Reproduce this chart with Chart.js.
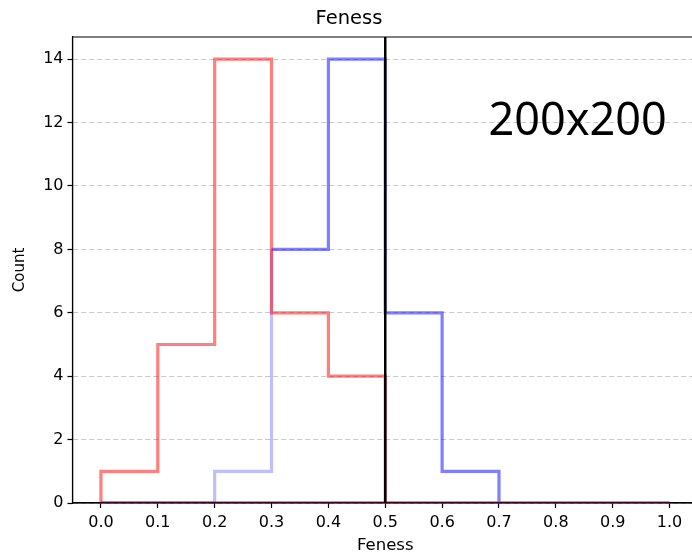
<!DOCTYPE html>
<html>
<head>
<meta charset="utf-8">
<script src="https://cdn.jsdelivr.net/npm/chart.js@4.4.1/dist/chart.umd.min.js"></script>
<style>
  html, body { margin: 0; padding: 0; background: #fff; overflow: hidden; }
  #wrap { width: 692px; height: 556px; overflow: hidden; }
  canvas { display: block; }
</style>
</head>
<body>
<div id="wrap"><canvas id="c" width="699" height="556"></canvas></div>
<script>
// Histogram bin edges and counts per group
const binEdges = [0.0, 0.1, 0.2, 0.3, 0.4, 0.5, 0.6, 0.7, 0.8, 0.9, 1.0];
const redCounts = [1, 5, 14, 6, 4, 0, 0, 0, 0, 0];
const blueCounts = [0, 0, 1, 8, 14, 6, 1, 0, 0, 0];
const xTicks = [0.0, 0.1, 0.2, 0.3, 0.4, 0.5, 0.6, 0.7, 0.8, 0.9, 1.0];
const yTicks = [0, 2, 4, 6, 8, 10, 12, 14];
const thresholdX = 0.5;
const blueFadeUntil = 0.3;
const sizeLabel = '200x200';

// Closed outline of a step histogram: up at each left edge, across, down, back along the base
function stepPoints(edges, counts) {
  const pts = [{x: edges[0], y: 0}];
  for (let i = 0; i < counts.length; i++) {
    pts.push({x: edges[i], y: counts[i]});
    pts.push({x: edges[i + 1], y: counts[i]});
  }
  pts.push({x: edges[edges.length - 1], y: 0});
  pts.push({x: edges[0], y: 0});
  return pts;
}

const RED = 'rgba(255,0,0,0.5)';
const BLUE = 'rgba(0,0,255,0.5)';
const BLUE_FAINT = 'rgba(0,0,255,0.25)';
const AXIS_W = 1.2;

const overlay = {
  id: 'overlay',
  afterDatasetsDraw(chart) {
    const {ctx, chartArea, scales} = chart;
    const {left, right, top, bottom} = chartArea;
    ctx.save();
    // frame: top, plus left and bottom redrawn above the outlines
    ctx.strokeStyle = '#000';
    ctx.lineWidth = AXIS_W;
    ctx.beginPath();
    ctx.moveTo(left, top);
    ctx.lineTo(right, top);
    ctx.moveTo(left, top);
    ctx.lineTo(left, bottom);
    ctx.lineTo(right, bottom);
    ctx.stroke();
    // threshold marker
    const xp = scales.x.getPixelForValue(thresholdX);
    ctx.lineWidth = 2.5;
    ctx.beginPath();
    ctx.moveTo(xp, top);
    ctx.lineTo(xp, bottom);
    ctx.stroke();
    // size label
    ctx.fillStyle = '#000';
    ctx.font = '45px "Noto Sans", sans-serif';
    ctx.textAlign = 'right';
    ctx.textBaseline = 'middle';
    ctx.fillText(sizeLabel, scales.x.getPixelForValue(0.995), scales.y.getPixelForValue(12.0));
    ctx.restore();
  }
};

const tickFont = {family: '"DejaVu Sans", sans-serif', size: 16};

new Chart(document.getElementById('c'), {
  type: 'line',
  data: {
    datasets: [
      {
        data: stepPoints(binEdges, redCounts),
        borderColor: RED,
        borderWidth: 3.2,
        pointRadius: 0,
        tension: 0,
        fill: false
      },
      {
        data: stepPoints(binEdges, blueCounts),
        borderColor: BLUE,
        borderWidth: 3.2,
        pointRadius: 0,
        tension: 0,
        fill: false,
        segment: {
          borderColor: ctx => (ctx.p0.parsed.x <= blueFadeUntil + 1e-9 && ctx.p1.parsed.x <= blueFadeUntil + 1e-9 ? BLUE_FAINT : BLUE)
        }
      }
    ]
  },
  options: {
    responsive: false,
    animation: false,
    events: [],
    layout: {padding: {left: 0, right: 1, top: 0, bottom: 0}},
    plugins: {
      legend: {display: false},
      tooltip: {enabled: false},
      title: {
        display: true,
        text: 'Feness',
        color: '#000',
        font: {family: '"DejaVu Sans", sans-serif', size: 19.5, weight: 'normal', lineHeight: 1.2},
        padding: {top: 7.5, bottom: 6.1}
      }
    },
    scales: {
      x: {
        type: 'linear',
        min: -0.05,
        max: 1.05,
        afterBuildTicks: s => { s.ticks = xTicks.map(v => ({value: v})); },
        afterFit: s => { s.height = 53; },
        ticks: {
          color: '#000',
          font: tickFont,
          padding: 5,
          maxRotation: 0,
          autoSkip: false,
          callback: v => Math.abs(v).toFixed(1)
        },
        grid: {drawOnChartArea: false, drawTicks: true, tickLength: 5, tickColor: '#000', tickWidth: AXIS_W},
        border: {display: true, color: '#000', width: AXIS_W},
        title: {
          display: true,
          text: 'Feness',
          color: '#000',
          font: {family: '"DejaVu Sans", sans-serif', size: 16.5, lineHeight: 1.2},
          padding: {top: 0, bottom: 0}
        }
      },
      y: {
        type: 'linear',
        min: 0,
        max: 14.7,
        afterBuildTicks: s => { s.ticks = yTicks.map(v => ({value: v})); },
        afterFit: s => { s.width = 72.5; },
        ticks: {color: '#000', font: tickFont, padding: 4, autoSkip: false},
        grid: {
          drawOnChartArea: true,
          drawTicks: true,
          tickLength: 5,
          color: 'rgba(176,176,176,0.7)',
          lineWidth: 1,
          tickColor: '#000',
          tickWidth: AXIS_W,
          tickBorderDash: []
        },
        border: {display: true, color: '#000', width: AXIS_W, dash: [5, 3]},
        title: {
          display: true,
          text: 'Count',
          color: '#000',
          font: {family: '"DejaVu Sans", sans-serif', size: 15, lineHeight: 1.2},
          padding: {top: 11, bottom: 0}
        }
      }
    }
  },
  plugins: [overlay]
});
</script>
</body>
</html>
